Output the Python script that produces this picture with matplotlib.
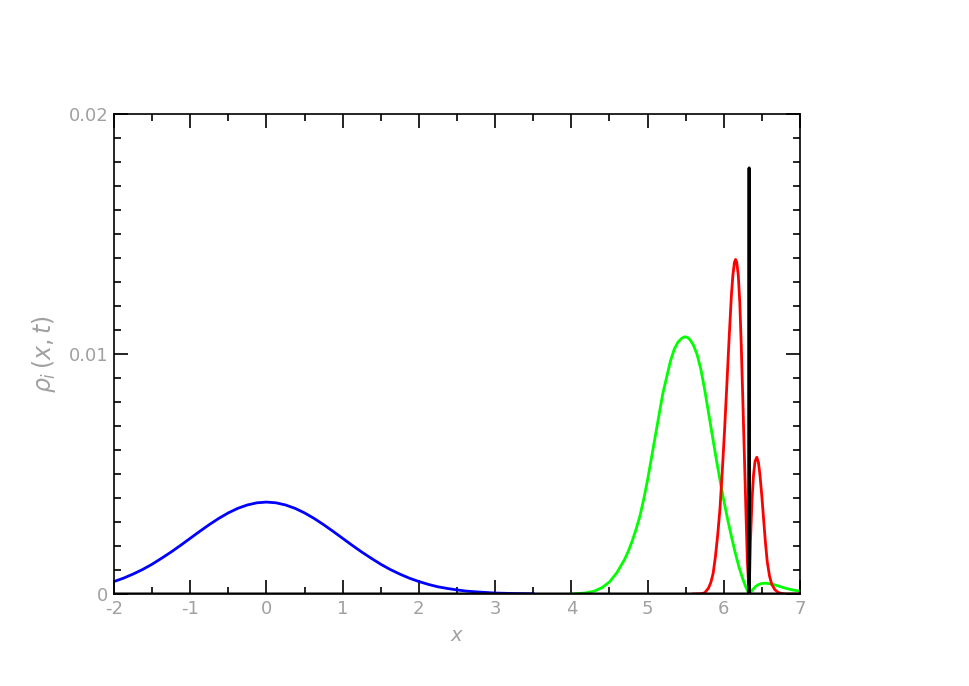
#!/usr/bin/env python3
import matplotlib
matplotlib.use("Agg")
import matplotlib.pyplot as plt
from matplotlib.ticker import MultipleLocator

# blue: initial packet around x=0
blue_x = [-2.0, -1.875, -1.75, -1.625, -1.5, -1.375, -1.25, -1.125, -1.0, -0.875,
          -0.75, -0.625, -0.5, -0.375, -0.25, -0.125, 0.0, 0.125, 0.25, 0.375,
          0.5, 0.625, 0.75, 0.875, 1.0, 1.125, 1.25, 1.375, 1.5, 1.625,
          1.75, 1.875, 2.0, 2.125, 2.25, 2.375, 2.5, 2.625, 2.75, 3.0,
          3.25, 3.5]
blue_y = [0.00052, 0.00066, 0.00083, 0.00102, 0.00124, 0.00149, 0.00175, 0.00203, 0.00232, 0.00261,
          0.00289, 0.00315, 0.00338, 0.00357, 0.00371, 0.00380, 0.00383, 0.00380, 0.00371, 0.00357,
          0.00338, 0.00315, 0.00289, 0.00261, 0.00232, 0.00203, 0.00175, 0.00149, 0.00124, 0.00102,
          0.00083, 0.00066, 0.00052, 0.00040, 0.00030, 0.00023, 0.00017, 0.00012, 0.00009, 0.00004,
          0.00002, 0.00001]

# green
green_x = [4.0, 4.1, 4.2, 4.3, 4.4, 4.5, 4.55, 4.6, 4.7, 4.75,
           4.8, 4.85, 4.9, 4.95, 5.0, 5.05, 5.1, 5.2, 5.3, 5.35,
           5.4, 5.45, 5.493, 5.53, 5.56, 5.6, 5.65, 5.7, 5.75, 5.8,
           5.85, 5.9, 5.95, 6.0, 6.05, 6.1, 6.15, 6.2, 6.25, 6.29,
           6.333, 6.36, 6.39, 6.42, 6.46, 6.5, 6.55, 6.6, 6.65, 6.7,
           6.8, 6.9, 7.0]
green_y = [0.0, 0.00002, 0.00005, 0.00012, 0.00026, 0.0005, 0.0007, 0.0009, 0.00145, 0.0018,
           0.00222, 0.0027, 0.00325, 0.00395, 0.00475, 0.00565, 0.00655, 0.00835, 0.0097, 0.0102,
           0.0105, 0.01066, 0.01072, 0.01068, 0.01058, 0.01038, 0.00998, 0.00935, 0.0085, 0.00755,
           0.0066, 0.00565, 0.00475, 0.0039, 0.00312, 0.0024, 0.00172, 0.00112, 0.00062, 0.00028,
           0.0, 0.0001, 0.00022, 0.00032, 0.0004, 0.00044, 0.00045, 0.00043, 0.0004, 0.00035,
           0.00025, 0.00017, 0.00012]

# red
red_x = [5.6, 5.7, 5.75, 5.8, 5.83, 5.86, 5.89, 5.92, 5.95, 5.98,
         6.01, 6.04, 6.07, 6.1, 6.12, 6.14, 6.155, 6.17, 6.19, 6.21,
         6.23, 6.25, 6.27, 6.29, 6.31, 6.333, 6.35, 6.37, 6.39, 6.41,
         6.433, 6.455, 6.475, 6.5, 6.52, 6.545, 6.57, 6.6, 6.63, 6.67,
         6.72, 6.8, 7.0]
red_y = [0.0, 0.00001, 0.00005, 0.00025, 0.00048, 0.00085, 0.00155, 0.00245, 0.00355, 0.0051,
         0.0068, 0.0087, 0.01065, 0.01245, 0.0133, 0.01382, 0.01394, 0.01382, 0.0133, 0.01215,
         0.0103, 0.00808, 0.0058, 0.0035, 0.0013, 0.0, 0.0022, 0.0039, 0.00495, 0.00553,
         0.0057, 0.00548, 0.00495, 0.00405, 0.00322, 0.0022, 0.00135, 0.00075, 0.0004, 0.00018,
         0.00005, 0.0, 0.0]

# black: zero except a narrow spike
black_x = [-2.0, 6.330, 6.333, 6.336, 7.0]
black_y = [0.0, 0.0, 0.01775, 0.0, 0.0]

xticks = [-2, -1, 0, 1, 2, 3, 4, 5, 6, 7]
xtick_labels = ["-2", "-1", "0", "1", "2", "3", "4", "5", "6", "7"]
yticks = [0, 0.01, 0.02]
ytick_labels = ["0", "0.01", "0.02"]

label_color = "#a0a0a0"

fig = plt.figure(figsize=(9.69, 6.86), dpi=100)
ax = fig.add_axes([0.1176, 0.1341, 0.708, 0.6997])

ax.plot(blue_x, blue_y, color="#0000ff", lw=2.0)
ax.plot(green_x, green_y, color="#00ff00", lw=2.0)
ax.plot(red_x, red_y, color="#ff0000", lw=2.0)
ax.plot(black_x, black_y, color="black", lw=2.2)

ax.set_xlim(-2, 7)
ax.set_ylim(0, 0.02)

ax.set_xticks(xticks)
ax.set_xticklabels(xtick_labels)
ax.set_yticks(yticks)
ax.set_yticklabels(ytick_labels)
ax.xaxis.set_minor_locator(MultipleLocator(0.5))
ax.yaxis.set_minor_locator(MultipleLocator(0.001))

ax.tick_params(which="both", direction="in", top=True, right=True,
               colors="black", labelcolor=label_color, labelsize=13)
ax.tick_params(which="major", length=10, width=1.2, pad=4)
ax.tick_params(which="minor", length=5, width=1.2)

for s in ax.spines.values():
    s.set_linewidth(1.2)

ax.set_xlabel("$x$", color=label_color, fontsize=14, labelpad=6)
ax.set_ylabel(r"$\rho_i\,(x,t)$", color=label_color, fontsize=17, labelpad=8)

fig.savefig("out.png", dpi=100)
